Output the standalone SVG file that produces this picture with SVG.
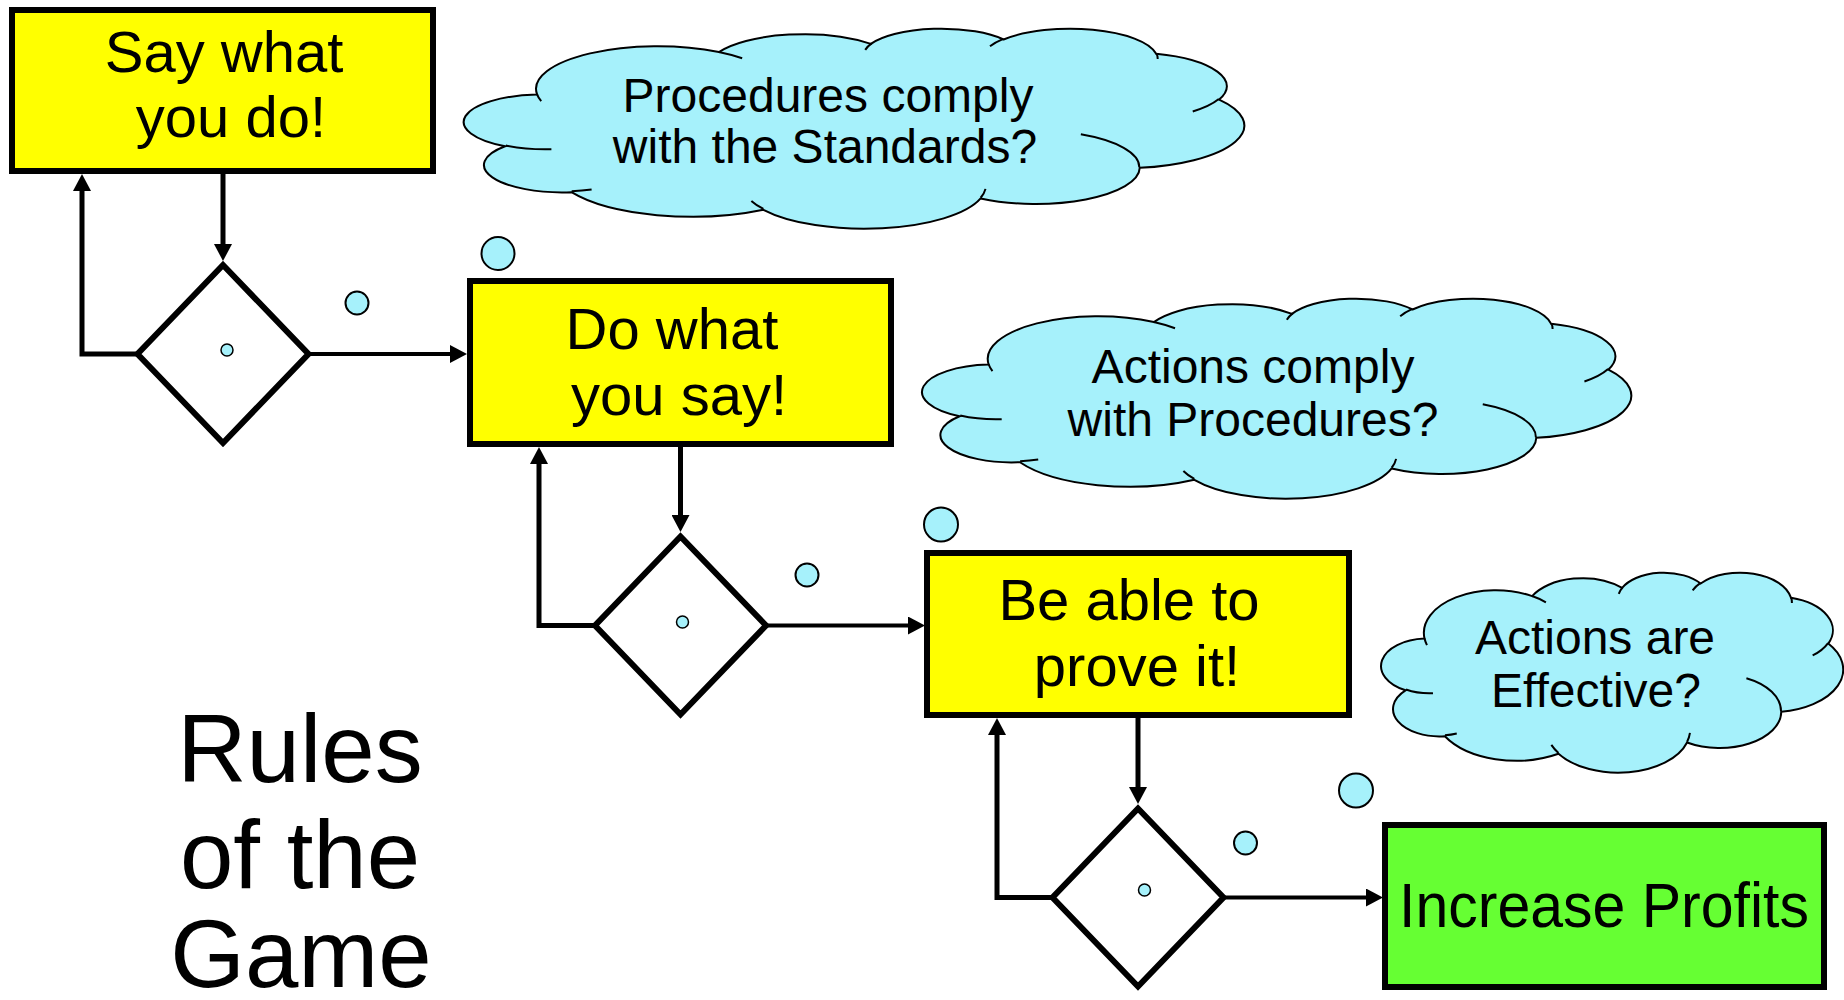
<svg xmlns="http://www.w3.org/2000/svg" width="1844" height="1000" viewBox="0 0 1844 1000">
  <style>
    text { font-family: "Liberation Sans", Arial, Helvetica, sans-serif; fill: #000; }
    .box { stroke: #000; stroke-width: 6; }
    .step { fill: #FFFF00; }
    .goal { fill: #66FF33; }
    .box-text { font-size: 58px; text-anchor: middle; }
    .goal-text { font-size: 63px; }
    .cloud-text { font-size: 48px; text-anchor: middle; }
    .title-text { font-size: 96px; text-anchor: middle; }
    .decision { fill: #FFFFFF; stroke: #000; stroke-width: 6; stroke-linejoin: miter; }
    .bubble { fill: #A6F1FB; stroke: #000; stroke-width: 2; }
    .dot { fill: #A6F1FB; stroke: #000; stroke-width: 1.5; }
    .flow { fill: none; stroke: #000; stroke-width: 5; stroke-linejoin: miter; marker-end: url(#arrow); }
    .flow.thin { stroke-width: 4; }
  </style>
  <defs>
    <!-- filled triangle arrowhead, fixed size regardless of line width -->
    <marker id="arrow" markerUnits="userSpaceOnUse" markerWidth="17" markerHeight="18" viewBox="0 0 17 18" refX="0" refY="9" orient="auto">
      <path d="M0,0 L17,9 L0,18 Z" fill="#000"/>
    </marker>
    <!-- cloud outline in a 1000 x 1000 box, scaled per instance -->
    <g id="cloud">
      <path fill="#A6F1FB" stroke="#000" stroke-width="2" vector-effect="non-scaling-stroke"
        d="M90.28,332.64
           A156.32,212.73 0 0 1 324.19,120.42
           A123.45,168.22 0 0 1 519.80,79.43
           A101.04,137.62 0 0 1 690.57,57.45
           A112.43,152.66 0 0 1 886.97,129.12
           A123.45,168.36 0 0 1 968.00,357.90
           A156.83,213.43 0 0 1 865.82,699.16
           A133.91,182.11 0 0 1 661.01,852.19
           A156.30,213.31 0 0 1 381.48,908.89
           A178.70,244.05 0 0 1 134.51,821.02
           A100.93,136.99 0 0 1 48.99,591.44
           A100.58,137.62 0 0 1 90.28,332.64 Z"/>
      <path fill="none" stroke="#000" stroke-width="2" vector-effect="non-scaling-stroke"
        d="M108.63,605.95 A100.58,137.62 0 0 1 49.96,587.47
           M160.37,807.85 A100.93,136.99 0 0 1 134.72,816.68
           M381.44,904.86 A156.30,213.31 0 0 1 365.98,864.59
           M667.29,804.42 A156.30,213.31 0 0 1 661.12,848.63
           M790.02,531.34 A133.91,182.11 0 0 1 865.22,696.47
           M967.55,355.42 A123.45,168.36 0 0 1 934.02,417.37
           M887.13,125.60 A112.43,152.66 0 0 1 888.90,154.85
           M673.10,91.48 A112.43,152.66 0 0 1 690.28,54.16
           M512.52,109.26 A101.04,137.62 0 0 1 520.84,77.07
           M324.07,120.19 A156.32,212.73 0 0 1 354.15,151.37
           M95.53,365.49 A156.32,212.73 0 0 1 90.28,332.64"/>
    </g>
  </defs>

  <rect x="0" y="0" width="1844" height="1000" fill="#FFFFFF"/>

  <!-- process steps -->
  <g id="say-what-you-do">
    <rect class="box step" x="12" y="10" width="421" height="161"/>
    <text class="box-text" x="224" y="72">Say what</text>
    <text class="box-text" x="231" y="137">you do!</text>
  </g>
  <g id="do-what-you-say">
    <rect class="box step" x="470" y="281" width="421" height="163"/>
    <text class="box-text" x="672" y="349">Do what</text>
    <text class="box-text" x="679" y="415">you say!</text>
  </g>
  <g id="be-able-to-prove-it">
    <rect class="box step" x="927" y="553" width="422" height="162"/>
    <text class="box-text" x="1129" y="620">Be able to</text>
    <text class="box-text" x="1137" y="686">prove it!</text>
  </g>
  <g id="increase-profits">
    <rect class="box goal" x="1385" y="825" width="439" height="162"/>
    <text class="goal-text" x="1399" y="927" textLength="410" lengthAdjust="spacingAndGlyphs">Increase Profits</text>
  </g>

  <!-- decision checks -->
  <g id="check-1">
    <polygon class="decision" points="223,265 308.5,354 223,443 137.5,354"/>
  </g>
  <g id="check-2">
    <polygon class="decision" points="680.5,536.5 766,625.5 680.5,714.5 595,625.5"/>
  </g>
  <g id="check-3">
    <polygon class="decision" points="1138,808.5 1223.5,897.5 1138,986.5 1052.5,897.5"/>
  </g>

  <!-- thought clouds with their trailing bubbles -->
  <g id="cloud-standards">
    <use href="#cloud" transform="translate(467 28) scale(0.777 0.2)"/>
    <text class="cloud-text" x="828" y="112">Procedures comply</text>
    <text class="cloud-text" x="825" y="163">with the Standards?</text>
    <circle class="bubble" cx="498" cy="253.5" r="16.5"/>
    <circle class="bubble" cx="357" cy="303" r="11.5"/>
    <circle class="dot" cx="227" cy="350" r="6"/>
  </g>
  <g id="cloud-procedures">
    <use href="#cloud" transform="translate(925 298) scale(0.706 0.2)"/>
    <text class="cloud-text" x="1253" y="383">Actions comply</text>
    <text class="cloud-text" x="1253" y="436">with Procedures?</text>
    <circle class="bubble" cx="941" cy="524.5" r="17"/>
    <circle class="bubble" cx="807" cy="575" r="11.5"/>
    <circle class="dot" cx="682.5" cy="622" r="6"/>
  </g>
  <g id="cloud-effective">
    <use href="#cloud" transform="translate(1383 572) scale(0.46 0.2)"/>
    <text class="cloud-text" x="1595" y="654">Actions are</text>
    <text class="cloud-text" x="1596" y="707">Effective?</text>
    <circle class="bubble" cx="1356" cy="790.5" r="17"/>
    <circle class="bubble" cx="1245.5" cy="843" r="11.5"/>
    <circle class="dot" cx="1144.5" cy="890" r="6"/>
  </g>

  <!-- title -->
  <g id="title">
    <text class="title-text" x="300" y="782">Rules</text>
    <text class="title-text" x="300" y="888">of the</text>
    <text class="title-text" x="301" y="987">Game</text>
  </g>

  <!-- connectors -->
  <g id="connectors">
    <path class="flow" d="M223,174 V244"/>
    <path class="flow" d="M137.5,354 H82 V191"/>
    <path class="flow thin" d="M308.5,354 H450"/>

    <path class="flow" d="M680.5,447 V515"/>
    <path class="flow" d="M595,625.5 H539 V464"/>
    <path class="flow thin" d="M766,625.5 H908"/>

    <path class="flow" d="M1138,718 V787"/>
    <path class="flow" d="M1052.5,897.5 H997 V735"/>
    <path class="flow thin" d="M1223.5,897.5 H1366"/>
  </g>
</svg>
